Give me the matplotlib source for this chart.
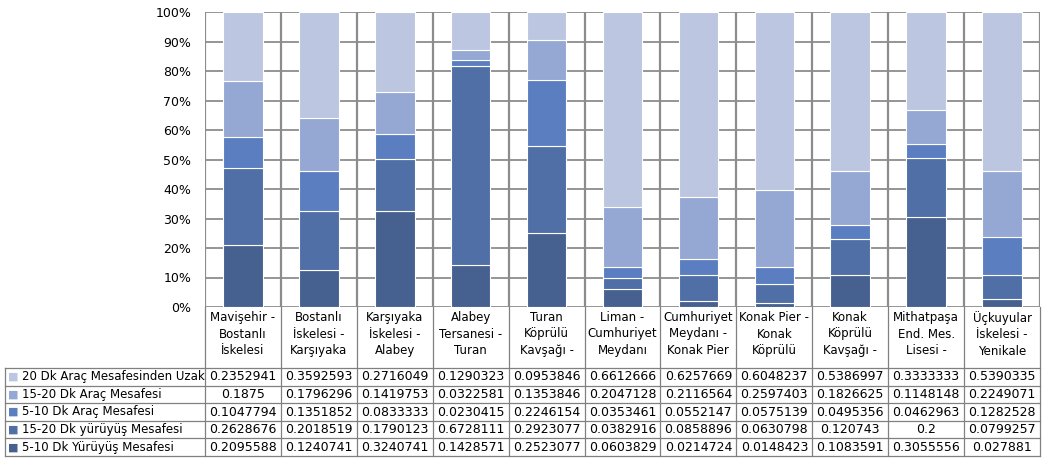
import matplotlib
matplotlib.use("Agg")
import matplotlib.pyplot as plt
from matplotlib.ticker import PercentFormatter

categories = [
    "Mavişehir -\nBostanlı\nİskelesi",
    "Bostanlı\nİskelesi -\nKarşıyaka",
    "Karşıyaka\nİskelesi -\nAlabey",
    "Alabey\nTersanesi -\nTuran",
    "Turan\nKöprülü\nKavşağı -",
    "Liman -\nCumhuriyet\nMeydanı",
    "Cumhuriyet\nMeydanı -\nKonak Pier",
    "Konak Pier -\nKonak\nKöprülü",
    "Konak\nKöprülü\nKavşağı -",
    "Mithatpaşa\nEnd. Mes.\nLisesi -",
    "Üçkuyular\nİskelesi -\nYenikale",
]

# series, bottom of the stack first
walk_5_10 = [0.2095588, 0.1240741, 0.3240741, 0.1428571, 0.2523077, 0.0603829,
             0.0214724, 0.0148423, 0.1083591, 0.3055556, 0.027881]
walk_15_20 = [0.2628676, 0.2018519, 0.1790123, 0.6728111, 0.2923077, 0.0382916,
              0.0858896, 0.0630798, 0.120743, 0.2, 0.0799257]
car_5_10 = [0.1047794, 0.1351852, 0.0833333, 0.0230415, 0.2246154, 0.0353461,
            0.0552147, 0.0575139, 0.0495356, 0.0462963, 0.1282528]
car_15_20 = [0.1875, 0.1796296, 0.1419753, 0.0322581, 0.1353846, 0.2047128,
             0.2116564, 0.2597403, 0.1826625, 0.1148148, 0.2249071]
car_over_20 = [0.2352941, 0.3592593, 0.2716049, 0.1290323, 0.0953846, 0.6612666,
               0.6257669, 0.6048237, 0.5386997, 0.3333333, 0.5390335]

series_names = ["5-10 Dk Yürüyüş Mesafesi", "15-20 Dk yürüyüş Mesafesi",
                "5-10 Dk Araç Mesafesi", "15-20 Dk Araç Mesafesi",
                "20 Dk Araç Mesafesinden Uzak"]
series = [walk_5_10, walk_15_20, car_5_10, car_15_20, car_over_20]
colors = ["#46618F", "#4F6FA6", "#5B7EC0", "#95A8D3", "#BCC6E1"]

plt.rcParams["font.family"] = "DejaVu Sans"
W, H = 1049, 469
fig = plt.figure(figsize=(W / 100, H / 100), dpi=100)

# plot area in pixels
left, right, top, bottom = 205, 1040, 12, 307
ax = fig.add_axes([left / W, 1 - bottom / H, (right - left) / W, (bottom - top) / H])

x = list(range(len(categories)))
base = [0.0] * len(categories)
for vals, col, name in zip(series, colors, series_names):
    ax.bar(x, vals, bottom=base, width=0.52, color=col, edgecolor="white",
           linewidth=0.8, label=name, zorder=3)
    base = [b + v for b, v in zip(base, vals)]

ax.set_xlim(-0.5, len(categories) - 0.5)
ax.set_ylim(0, 1)
ax.set_yticks([i / 10 for i in range(11)])
ax.yaxis.set_major_formatter(PercentFormatter(1.0, decimals=0))
ax.tick_params(axis="y", length=0, pad=10, labelsize=9)
ax.set_xticks([])
ax.grid(axis="y", color="#8c8c8c", linewidth=1.3, zorder=0)
for b in range(len(categories) + 1):
    ax.axvline(b - 0.5, color="#8c8c8c", linewidth=1.6, zorder=1)
for s in ax.spines.values():
    s.set_visible(False)

# data table below the plot
col_w = (right - left) / len(categories)
lab_w = (left - 5) / col_w
tb = 456
tax = fig.add_axes([5 / W, 1 - tb / H, (right - 5) / W, (tb - bottom) / H])
tax.set_xlim(-0.5 - lab_w, len(categories) - 0.5)
tax.set_ylim(tb - bottom, 0)
tax.axis("off")

head_h = 61
row_h = (tb - bottom - head_h) / 5
line_kw = dict(color="#808080", linewidth=0.9, clip_on=False)

for i, cat in enumerate(categories):
    tax.text(i, 4, cat, ha="center", va="top", fontsize=8.5, linespacing=1.35)

rows = list(zip(series_names, series, colors))[::-1]
for r, (name, vals, col) in enumerate(rows):
    yc = head_h + row_h * (r + 0.5)
    tax.text(-0.5 - lab_w + 0.04, yc, "\u25A0", color=col, ha="left",
             va="center", fontsize=8)
    tax.text(-0.5 - lab_w + 0.22, yc, name, ha="left", va="center", fontsize=8.5)
    for i, v in enumerate(vals):
        tax.text(i, yc, f"{v:.7g}", ha="center", va="center", fontsize=9)

for r in range(6):
    y = head_h + row_h * r
    tax.plot([-0.5 - lab_w, len(categories) - 0.5], [y, y], **line_kw)
tax.plot([-0.5 - lab_w, -0.5 - lab_w], [head_h, tb - bottom], **line_kw)
for b in range(len(categories) + 1):
    tax.plot([b - 0.5, b - 0.5], [0, tb - bottom], **line_kw)

fig.savefig("out.png", dpi=100)
